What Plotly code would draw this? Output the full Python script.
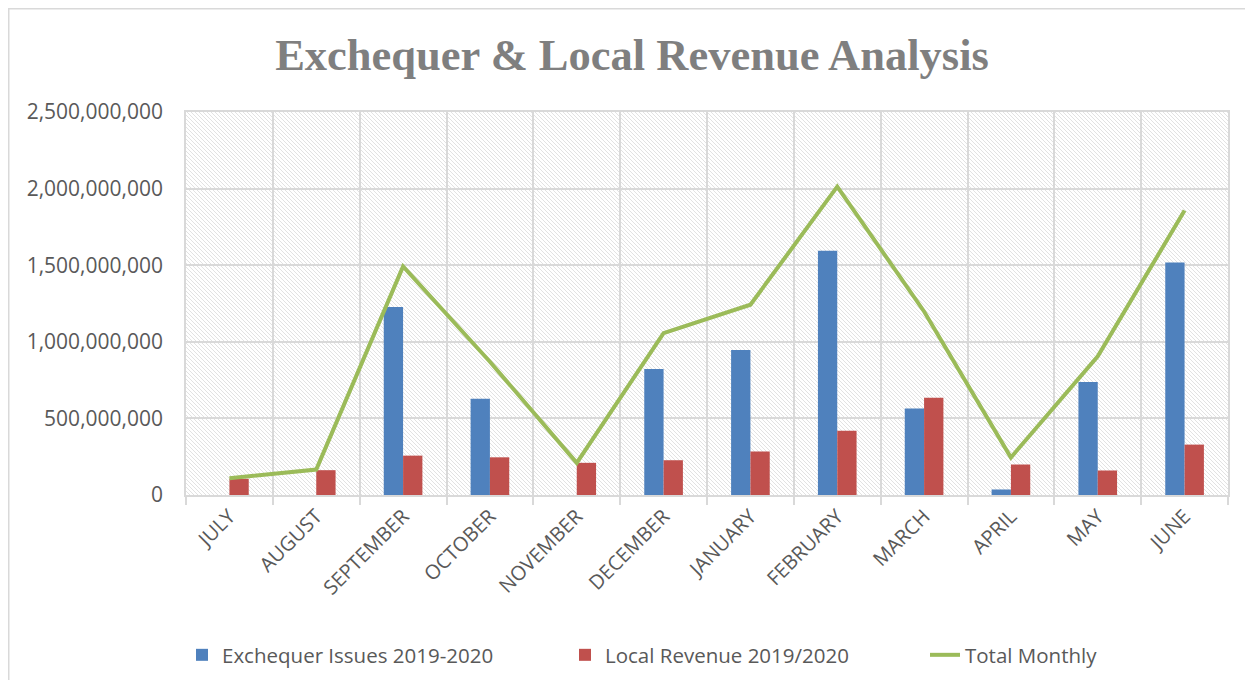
import plotly.graph_objects as go

months = ["JULY", "AUGUST", "SEPTEMBER", "OCTOBER", "NOVEMBER", "DECEMBER",
          "JANUARY", "FEBRUARY", "MARCH", "APRIL", "MAY", "JUNE"]
exchequer = [0, 0, 1227e6, 629e6, 0, 823e6, 946e6, 1594e6, 564e6, 36e6, 738e6, 1518e6]
local_rev = [106e6, 162e6, 257e6, 246e6, 210e6, 227e6, 284e6, 420e6, 634e6, 199e6, 160e6, 329e6]
total = [110e6, 166e6, 1492e6, 870e6, 210e6, 1057e6, 1242e6, 2013e6, 1198e6, 245e6, 905e6, 1857e6]
y_ticks = [0, 500e6, 1000e6, 1500e6, 2000e6, 2500e6]

# the page body has an 8px margin, so the figure is sized/offset accordingly
W_FIG, H_FIG = 1237, 672
ML, MT = 178, 104
PW, PH = 1042, 383
MR, MB = W_FIG - ML - PW, H_FIG - MT - PH

TXT = "#595959"
GRID = "#d9d9d9"
FONT = "Open Sans"

fig = go.Figure()
fig.add_trace(go.Bar(x=months, y=exchequer, name="Exchequer Issues 2019-2020",
                     marker=dict(color="#4F81BD", line=dict(width=0)), legend="legend"))
fig.add_trace(go.Bar(x=months, y=local_rev, name="Local Revenue 2019/2020",
                     marker=dict(color="#C0504D", line=dict(width=0)), legend="legend2"))
fig.add_trace(go.Scatter(x=months, y=total, name="Total Monthly", mode="lines",
                         line=dict(color="#9BBB59", width=4), legend="legend3"))

# hatched plot background (decorative diagonal stripes in pixel space)
step = 4
segs = []
c = -PH
while c <= PW:
    x1 = max(0, c)
    x2 = min(PW, c + PH)
    if x2 > x1:
        segs.append(f"M{x1/PW:.5f},{1-(x1-c)/PH:.5f}L{x2/PW:.5f},{1-(x2-c)/PH:.5f}")
    c += step
shapes = [dict(type="path", xref="paper", yref="paper", path="".join(segs),
               line=dict(color="#e2e2e2", width=1), layer="below")]


def px_x(p):
    return (p - ML) / PW


def px_y(p):
    return (MT + PH - p) / PH


# outer chart border
shapes.append(dict(type="rect", xref="paper", yref="paper",
                   x0=px_x(0.75), x1=px_x(W_FIG + 20), y0=px_y(H_FIG + 20), y1=px_y(0.75),
                   line=dict(color=GRID, width=1.5), fillcolor="rgba(0,0,0,0)", layer="below"))


def leg(x_win):
    return dict(orientation="h", xref="container", x=(x_win - 8) / W_FIG, xanchor="left",
                y=px_y(647), yanchor="middle",
                font=dict(size=20.5, color=TXT), itemwidth=30)


fig.update_layout(
    width=W_FIG, height=H_FIG,
    margin=dict(l=ML, r=MR, t=MT, b=MB, autoexpand=False),
    paper_bgcolor="white", plot_bgcolor="white",
    barmode="group", bargap=0.555, bargroupgap=0,
    title=dict(text="<b>Exchequer & Local Revenue Analysis</b>", x=(632 - 8) / W_FIG, xanchor="center",
               y=1 - 46 / H_FIG, yanchor="middle",
               font=dict(family="Liberation Serif", size=44.5, color="#7f7f7f")),
    font=dict(family=FONT, color=TXT),
    legend=leg(182),
    legend2=leg(565),
    legend3=leg(925),
    shapes=shapes,
    showlegend=True,
)
fig.update_xaxes(type="category", tickson="boundaries", showgrid=True, gridcolor=GRID, gridwidth=1.5,
                 ticks="outside", ticklen=8, tickcolor=GRID, tickwidth=1.5,
                 showline=True, linecolor=GRID, linewidth=1.5, mirror=True,
                 tickangle=-45, tickfont=dict(size=20, color=TXT))
fig.update_yaxes(range=[0, 2.5e9], tickvals=y_ticks, tickformat=",d",
                 showgrid=True, gridcolor=GRID, gridwidth=1.5,
                 showline=True, linecolor=GRID, linewidth=1.5, mirror=True,
                 ticks="", ticklabelstandoff=17, zeroline=False,
                 tickfont=dict(size=21, color=TXT))

fig.write_html("out.html")
